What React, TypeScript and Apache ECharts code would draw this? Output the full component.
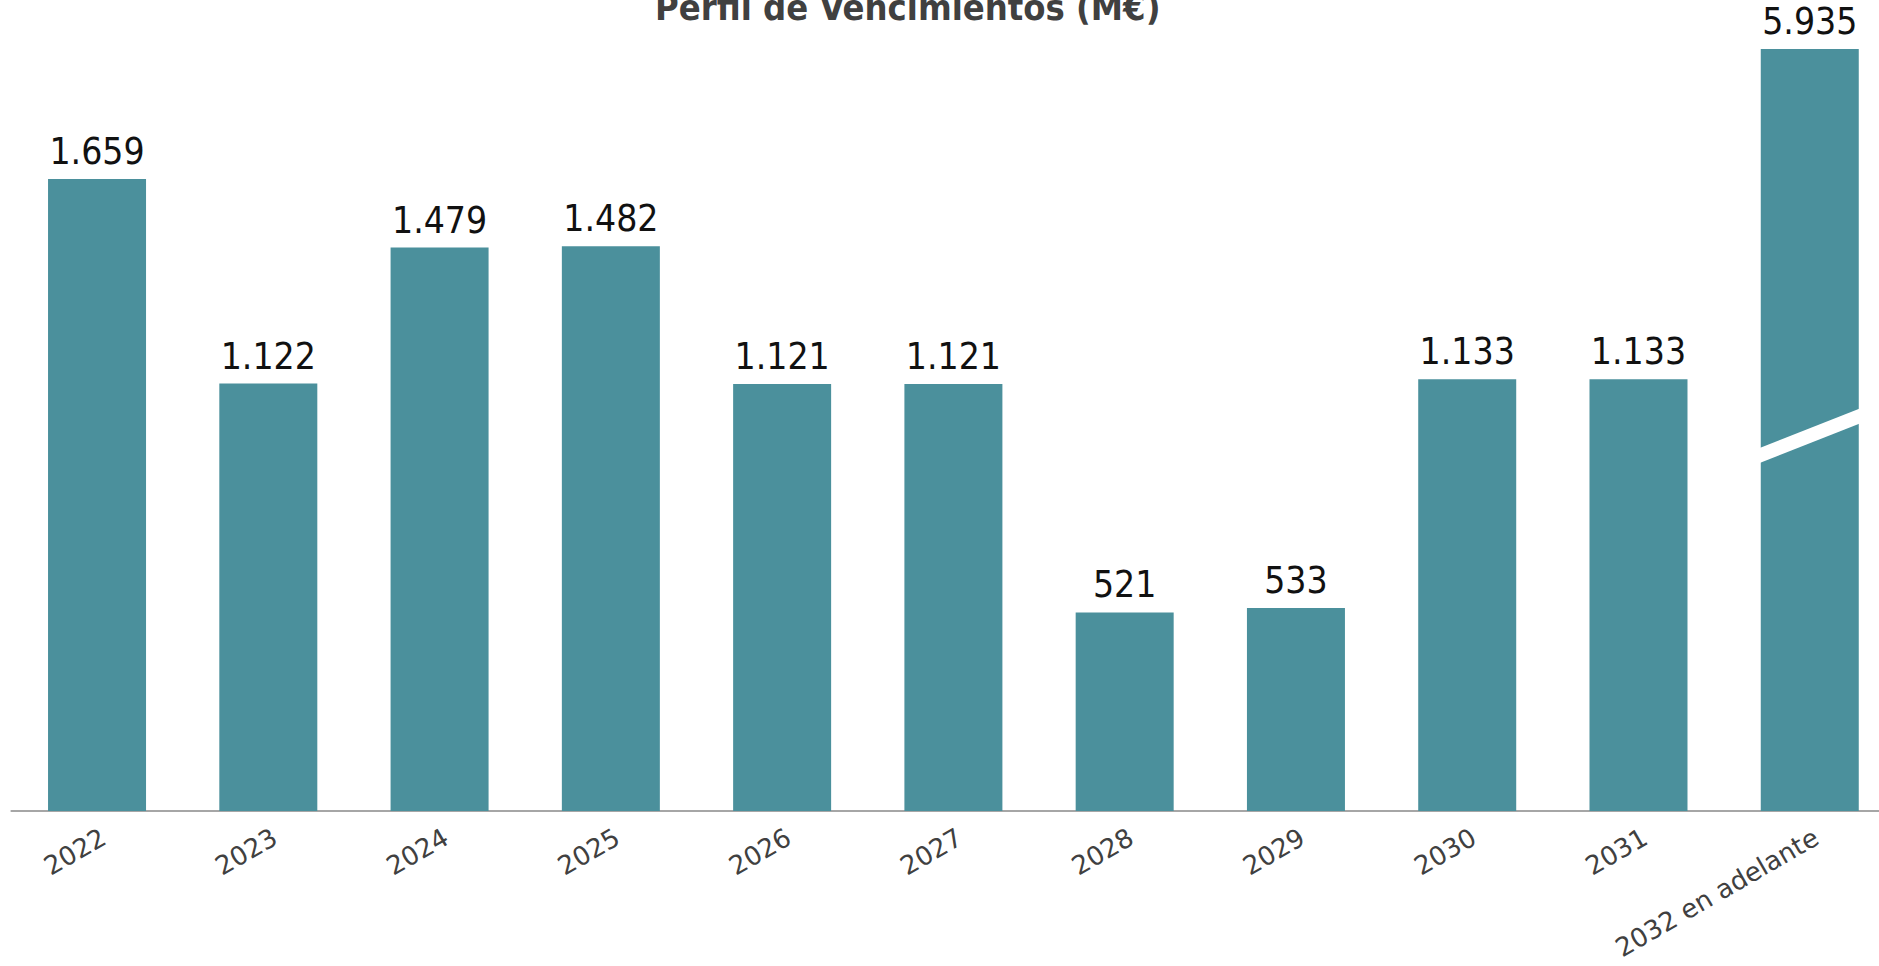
import React, { useEffect, useRef } from "react";
import * as echarts from "echarts";

const categories = ["2022", "2023", "2024", "2025", "2026", "2027", "2028", "2029", "2030", "2031", "2032 en adelante"];
const values = [1659, 1122, 1479, 1482, 1121, 1121, 521, 533, 1133, 1133, 5935];
const axisCap = 2000; // broken axis: bars above this are cut
const breakCategory = "2032 en adelante";
const breakValue = 985;
const titleText = "Perfil de Vencimientos (M€)";

const BAR_W = 98;
const LABEL_FONT = "'DejaVu Sans Condensed', 'DejaVu Sans', sans-serif";

function fmt(v: number): string {
  return String(v).replace(/\B(?=(\d{3})+(?!\d))/g, ".");
}

export default function App() {
  const ref = useRef<HTMLDivElement>(null);
  useEffect(() => {
    const chart = echarts.init(ref.current!, null, { renderer: "svg" });
    const plotted = values.map((v) => Math.min(v, axisCap));
    chart.setOption({
      animation: false,
      backgroundColor: "#ffffff",
      title: {
        text: titleText,
        left: 655,
        top: -11,
        padding: 0,
        textStyle: {
          fontFamily: LABEL_FONT,
          fontWeight: "bold",
          fontSize: 36,
          color: "#404040",
        },
      },
      grid: { left: 11.4, top: 49, width: 1884, height: 762, containLabel: false, outerBoundsMode: "none" },
      xAxis: {
        type: "category",
        data: categories,
        axisLine: { lineStyle: { color: "#a6a6a6", width: 2 } },
        axisTick: { show: false },
        axisLabel: {
          interval: 0,
          rotate: 30,
          verticalAlign: "top",
          margin: 13,
          fontFamily: "'DejaVu Sans', sans-serif",
          fontSize: 26,
          color: "#404040",
        },
      },
      yAxis: { type: "value", min: 0, max: axisCap, show: false, splitLine: { show: false } },
      series: [
        {
          type: "bar",
          data: plotted,
          barWidth: BAR_W,
          itemStyle: { color: "#4b909c" },
          label: {
            show: true,
            position: "top",
            distance: 9,
            formatter: (p: any) => fmt(values[p.dataIndex]),
            fontFamily: LABEL_FONT,
            fontSize: 37,
            color: "#111111",
          },
        },
        {
          type: "custom",
          silent: true,
          z: 10,
          encode: { x: 0, y: 1 },
          data: [[categories.indexOf(breakCategory), breakValue]],
          renderItem: (params: any, api: any) => {
            const pt = api.coord([api.value(0), api.value(1)]);
            const half = BAR_W / 2 + 3;
            const slope = 0.394;
            const t = 7.5;
            const xl = pt[0] - half;
            const xr = pt[0] + half;
            const yl = pt[1] + slope * half;
            const yr = pt[1] - slope * half;
            return {
              type: "polygon",
              shape: {
                points: [
                  [xl, yl - t],
                  [xr, yr - t],
                  [xr, yr + t],
                  [xl, yl + t],
                ],
              },
              style: { fill: "#ffffff" },
            };
          },
        },
      ],
    });
    return () => chart.dispose();
  }, []);
  return (
    <div style={{ position: "fixed", left: 0, top: 0, width: 1879, height: 966, overflow: "hidden", background: "#fff" }}>
      <div ref={ref} style={{ position: "absolute", left: 0, top: 0, width: 1910, height: 966 }} />
    </div>
  );
}
